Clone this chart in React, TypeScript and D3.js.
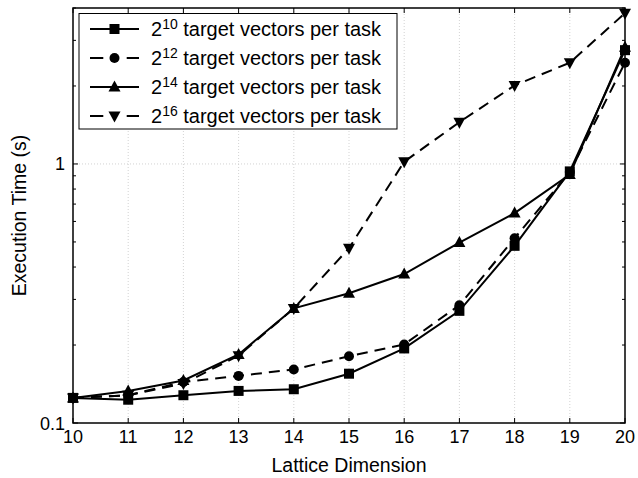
import { useEffect, useRef } from 'react';
import * as d3 from 'd3';

const dimensions = [10, 11, 12, 13, 14, 15, 16, 17, 18, 19, 20];
const time2_10 = [0.125, 0.123, 0.128, 0.133, 0.135, 0.155, 0.194, 0.271, 0.483, 0.936, 2.75];
const time2_12 = [0.125, 0.128, 0.144, 0.152, 0.161, 0.181, 0.201, 0.285, 0.517, 0.93, 2.46];
const time2_14 = [0.125, 0.133, 0.146, 0.184, 0.277, 0.317, 0.376, 0.497, 0.646, 0.91, 2.82];
const time2_16 = [0.125, 0.128, 0.142, 0.182, 0.277, 0.473, 1.02, 1.45, 2.01, 2.46, 3.82];
const exponents = ['10', '12', '14', '16'];
const yTickLabels = ['0.1', '1'];

type Marker = 'square' | 'circle' | 'triangle' | 'triangleDown';

const series: { exp: string; values: number[]; dashed: boolean; marker: Marker }[] = [
  { exp: exponents[0], values: time2_10, dashed: false, marker: 'square' },
  { exp: exponents[1], values: time2_12, dashed: true, marker: 'circle' },
  { exp: exponents[2], values: time2_14, dashed: false, marker: 'triangle' },
  { exp: exponents[3], values: time2_16, dashed: true, marker: 'triangleDown' },
];

const drawMarker = (g: d3.Selection<SVGGElement, unknown, null, undefined>, kind: Marker, x: number, y: number) => {
  if (kind === 'square') {
    g.append('rect').attr('x', x - 5).attr('y', y - 5).attr('width', 10).attr('height', 10).attr('fill', '#000');
  } else if (kind === 'circle') {
    g.append('circle').attr('cx', x).attr('cy', y).attr('r', 5).attr('fill', '#000');
  } else if (kind === 'triangle') {
    g.append('path').attr('d', `M${x},${y - 6.5}L${x + 6},${y + 4.5}L${x - 6},${y + 4.5}Z`).attr('fill', '#000');
  } else {
    g.append('path').attr('d', `M${x},${y + 6.5}L${x + 6},${y - 4.5}L${x - 6},${y - 4.5}Z`).attr('fill', '#000');
  }
};

const App = () => {
  const svgRef = useRef<SVGSVGElement>(null);

  useEffect(() => {
    document.body.style.margin = '0';
    document.body.style.overflow = 'hidden';
    if (!svgRef.current) return;
    const root = d3.select(svgRef.current);
    root.selectAll('*').remove();

    const left = 73, right = 625, top = 8, bottom = 423;
    const font = 'Liberation Sans, Arial, Helvetica, sans-serif';

    const x = d3.scaleLinear().domain([10, 20]).range([left, right]);
    const y = d3.scaleLog().domain([0.1, 4]).range([bottom, top]);

    const svg = root.append('g');

    // dotted grid
    const grid = svg.append('g').attr('stroke', '#c8c8c8').attr('stroke-dasharray', '1,2').attr('stroke-width', 0.8);
    dimensions.slice(1, -1).forEach(d => {
      grid.append('line').attr('x1', x(d)).attr('x2', x(d)).attr('y1', top).attr('y2', bottom);
    });
    grid.append('line').attr('x1', left).attr('x2', right).attr('y1', y(1)).attr('y2', y(1));

    // tick marks (inside, on all four sides)
    const ticks = svg.append('g').attr('stroke', '#000').attr('stroke-width', 1);
    dimensions.forEach(d => {
      ticks.append('line').attr('x1', x(d)).attr('x2', x(d)).attr('y1', bottom).attr('y2', bottom - 5);
      ticks.append('line').attr('x1', x(d)).attr('x2', x(d)).attr('y1', top).attr('y2', top + 5);
    });
    y.ticks().forEach(v => {
      const major = Math.abs(Math.log10(v) - Math.round(Math.log10(v))) < 1e-9;
      const len = major ? 5 : 3;
      ticks.append('line').attr('x1', left).attr('x2', left + len).attr('y1', y(v)).attr('y2', y(v));
      ticks.append('line').attr('x1', right).attr('x2', right - len).attr('y1', y(v)).attr('y2', y(v));
    });

    // tick labels
    dimensions.forEach(d => {
      svg.append('text').attr('x', x(d)).attr('y', bottom + 20).attr('text-anchor', 'middle')
        .attr('font-family', font).attr('font-size', 18).text(d);
    });
    yTickLabels.forEach(t => {
      svg.append('text').attr('x', left - 8).attr('y', y(+t) + 6.5).attr('text-anchor', 'end')
        .attr('font-family', font).attr('font-size', 18).text(t);
    });

    // axis titles
    svg.append('text').attr('x', (left + right) / 2).attr('y', 472).attr('text-anchor', 'middle')
      .attr('font-family', font).attr('font-size', 19.5).text('Lattice Dimension');
    svg.append('text').attr('transform', `translate(26,${(top + bottom) / 2}) rotate(-90)`).attr('text-anchor', 'middle')
      .attr('font-family', font).attr('font-size', 19.5).text('Execution Time (s)');

    // series
    const line = d3.line<number>().x((_, i) => x(dimensions[i])).y(v => y(v));
    series.forEach(s => {
      svg.append('path').datum(s.values).attr('d', line).attr('fill', 'none').attr('stroke', '#000')
        .attr('stroke-width', 2).attr('stroke-dasharray', s.dashed ? '11,7' : null);
      const mg = svg.append('g');
      s.values.forEach((v, i) => drawMarker(mg, s.marker, x(dimensions[i]), y(v)));
    });

    // frame
    svg.append('rect').attr('x', left).attr('y', top).attr('width', right - left).attr('height', bottom - top)
      .attr('fill', 'none').attr('stroke', '#000').attr('stroke-width', 1.5);

    // legend
    const legend = svg.append('g');
    legend.append('rect').attr('x', 79).attr('y', 13.5).attr('width', 318).attr('height', 115.5)
      .attr('fill', '#fff').attr('stroke', '#000').attr('stroke-width', 1);
    series.forEach((s, i) => {
      const ly = 29 + i * 29;
      legend.append('line').attr('x1', 90).attr('x2', 139).attr('y1', ly).attr('y2', ly)
        .attr('stroke', '#000').attr('stroke-width', 2).attr('stroke-dasharray', s.dashed ? '13.3,23.4' : null);
      drawMarker(legend, s.marker, 114.5, ly);
      const t = legend.append('text').attr('x', 151).attr('y', ly + 7).attr('font-family', font).attr('font-size', 20);
      t.append('tspan').text('2');
      t.append('tspan').attr('dy', -7).attr('font-size', 14).text(s.exp);
      t.append('tspan').attr('dy', 7).text(' target vectors per task');
    });
  }, []);

  return (
    <div style={{ width: 638, height: 478 }}>
      <svg ref={svgRef} width={638} height={478} style={{ display: 'block', background: '#fff' }} />
    </div>
  );
};

export default App;
